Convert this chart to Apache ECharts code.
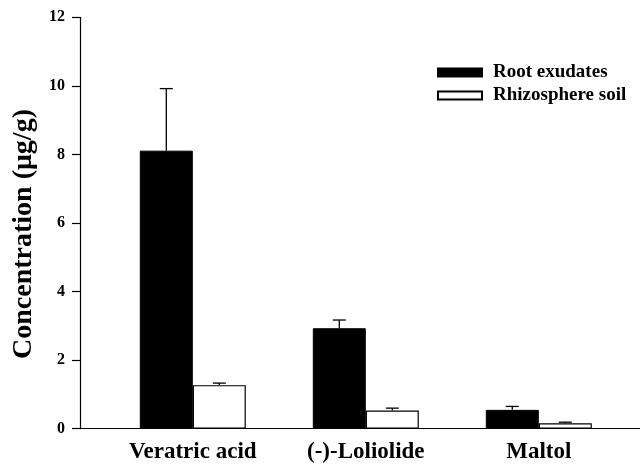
<!DOCTYPE html>
<html>
<head>
<meta charset="utf-8">
<script src="https://cdn.jsdelivr.net/npm/echarts@6/dist/echarts.min.js"></script>
<style>html,body{margin:0;padding:0;background:#fff}#c{width:640px;height:464px}</style>
</head>
<body>
<div id="c"></div>
<script>
var categories = ['Veratric acid', '(-)-Loliolide', 'Maltol'];
var rootExudates = [8.11, 2.93, 0.55];
var rootErr = [1.81, 0.24, 0.10];
var rhizosphereSoil = [1.27, 0.53, 0.16];
var rhizErr = [0.06, 0.07, 0.03];
var yTicks = [0, 2, 4, 6, 8, 10, 12];
var seriesNames = ['Root exudates', 'Rhizosphere soil'];
var yTitle = 'Concentration (\u03bcg/g)';

var FONT = '"Liberation Serif", "Times New Roman", serif';
var BAR_W = 53;
var chart = echarts.init(document.getElementById('c'), null, {renderer: 'canvas'});

function errSeries(vals, errs, side) {
  return {
    type: 'custom',
    xAxisIndex: 1, yAxisIndex: 1,
    silent: true,
    z: 1,
    data: vals.map(function (v, i) { return [i, v, v + errs[i]]; }),
    renderItem: function (params, api) {
      var p0 = api.coord([api.value(0), api.value(1)]);
      var p1 = api.coord([api.value(0), api.value(2)]);
      var x = p0[0] + side * BAR_W / 2;
      var cap = 6.5;
      return {
        type: 'group',
        children: [
          {type: 'line', shape: {x1: x, y1: p0[1], x2: x, y2: p1[1]}, style: {stroke: '#000', lineWidth: 1.3}},
          {type: 'line', shape: {x1: x - cap, y1: p1[1], x2: x + cap, y2: p1[1]}, style: {stroke: '#000', lineWidth: 1.3}}
        ]
      };
    }
  };
}

var option = {
  animation: false,
  backgroundColor: '#fff',
  grid: [
    {left: 80, right: 0, top: 17.3, bottom: 35.3},
    {left: 106.3, width: 519, top: 17.3, bottom: 35.3}
  ],
  xAxis: [
    {gridIndex: 0, type: 'value', min: 0, max: 1,
      axisLine: {show: true, lineStyle: {color: '#000', width: 1.2}},
      axisTick: {show: false}, axisLabel: {show: false}, splitLine: {show: false}},
    {gridIndex: 1, type: 'category', data: categories,
      axisLine: {show: false}, axisTick: {show: false}, splitLine: {show: false},
      axisLabel: {margin: 12, color: '#000', fontFamily: FONT, fontWeight: 'bold', fontSize: 23}}
  ],
  yAxis: [
    {gridIndex: 0, type: 'value', min: yTicks[0], max: yTicks[yTicks.length - 1], interval: 2,
      axisLine: {show: true, lineStyle: {color: '#000', width: 1.2}},
      axisTick: {show: true, inside: false, length: 8, lineStyle: {color: '#000', width: 1.2}},
      splitLine: {show: false},
      axisLabel: {margin: 15, color: '#000', fontFamily: FONT, fontWeight: 'bold', fontSize: 16}},
    {gridIndex: 1, type: 'value', min: yTicks[0], max: yTicks[yTicks.length - 1],
      show: false, splitLine: {show: false}}
  ],
  legend: {
    orient: 'vertical', left: 432, top: 58,
    itemWidth: 44, itemHeight: 8, itemGap: 4,
    icon: 'rect',
    data: seriesNames,
    textStyle: {color: '#000', fontFamily: FONT, fontWeight: 'bold', fontSize: 19, padding: [0, 0, 0, 6]}
  },
  graphic: [{
    type: 'text', x: 23.5, y: 234, rotation: Math.PI / 2,
    style: {text: yTitle, fill: '#000', font: 'bold 28px ' + FONT, textAlign: 'center', textVerticalAlign: 'middle'}
  }],
  series: [
    {name: seriesNames[0], type: 'bar', xAxisIndex: 1, yAxisIndex: 1, data: rootExudates,
      barWidth: BAR_W, barGap: '0%', z: 2,
      itemStyle: {color: '#000', borderColor: '#000', borderWidth: 1}},
    {name: seriesNames[1], type: 'bar', xAxisIndex: 1, yAxisIndex: 1, data: rhizosphereSoil,
      barWidth: BAR_W, barGap: '0%', z: 2,
      itemStyle: {color: '#fff', borderColor: '#000', borderWidth: 1.2}},
    errSeries(rootExudates, rootErr, -1),
    errSeries(rhizosphereSoil, rhizErr, 1)
  ]
};
chart.setOption(option);
</script>
</body>
</html>
